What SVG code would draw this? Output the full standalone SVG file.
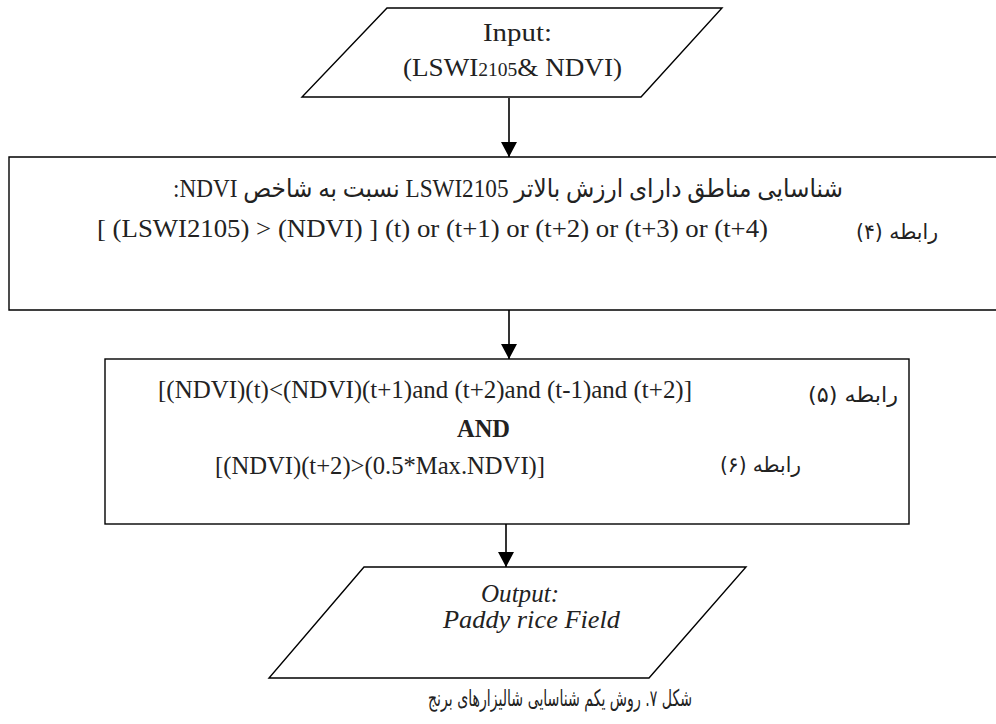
<svg xmlns="http://www.w3.org/2000/svg" width="996" height="724" viewBox="0 0 996 724">
<style>
.shape{fill:#fff;stroke:#000;stroke-width:1.4}
.conn{stroke:#000;stroke-width:1.6;fill:none}
.t{font-family:"Liberation Serif","DejaVu Sans",serif;font-size:25px;fill:#222}
.p{font-family:"DejaVu Sans","Liberation Serif",sans-serif;font-size:21px;fill:#222}
.fa{font-family:"DejaVu Sans","Liberation Serif",sans-serif;font-size:23px;fill:#222}
.it{font-style:italic}
.b{font-weight:bold}
</style>
<defs>
<marker id="ah" markerUnits="userSpaceOnUse" markerWidth="18" markerHeight="18" refX="15" refY="8" orient="auto">
<path d="M0,0 L15,8 L0,16 Z" fill="#000"/>
</marker>
</defs>
<rect width="996" height="724" fill="#fff"/>
<g id="connectors">
<line class="conn" x1="509" y1="98" x2="509" y2="157" marker-end="url(#ah)"/>
<line class="conn" x1="509" y1="310" x2="509" y2="359" marker-end="url(#ah)"/>
<line class="conn" x1="506" y1="524" x2="506" y2="567" marker-end="url(#ah)"/>
</g>
<g id="input">
<polygon class="shape" points="387,8 722,8 641,97 302,97"/>
<text class="t" x="483" y="41" textLength="69" lengthAdjust="spacingAndGlyphs">Input:</text>
<text class="t" x="403" y="76" textLength="219" lengthAdjust="spacingAndGlyphs">(LSWI<tspan font-size="18">2105</tspan>&amp; NDVI)</text>
</g>
<g id="step1">
<path class="shape" d="M1000,157 L9,157 L9,310 L1000,310"/>
<text class="t" x="843" y="197" direction="rtl" unicode-bidi="embed" text-anchor="start" textLength="670" lengthAdjust="spacingAndGlyphs">شناسایی مناطق دارای ارزش بالاتر  LSWI2105 نسبت به شاخص NDVI:</text>
<text class="t" x="97" y="237" textLength="671" lengthAdjust="spacingAndGlyphs">[ (LSWI2105) &gt; (NDVI) ] (t) or (t+1) or (t+2) or (t+3) or (t+4)</text>
<text class="p" x="938" y="239" direction="rtl" unicode-bidi="embed" text-anchor="start" textLength="82" lengthAdjust="spacingAndGlyphs">رابطه (۴)</text>
</g>
<g id="step2">
<rect class="shape" x="105" y="359" width="804" height="165"/>
<text class="t" x="158" y="398" textLength="534" lengthAdjust="spacingAndGlyphs">[(NDVI)(t)&lt;(NDVI)(t+1)and (t+2)and (t-1)and (t+2)]</text>
<text class="p" x="898" y="402" direction="rtl" unicode-bidi="embed" text-anchor="start" textLength="90" lengthAdjust="spacingAndGlyphs">رابطه (۵)</text>
<text class="t b" x="457" y="437" textLength="53" lengthAdjust="spacingAndGlyphs">AND</text>
<text class="t" x="215" y="474" textLength="330" lengthAdjust="spacingAndGlyphs">[(NDVI)(t+2)&gt;(0.5*Max.NDVI)]</text>
<text class="p" x="801" y="472" direction="rtl" unicode-bidi="embed" text-anchor="start" textLength="81" lengthAdjust="spacingAndGlyphs">رابطه (۶)</text>
</g>
<g id="output">
<polygon class="shape" points="364,567 746,567 649,678 269,678"/>
<text class="t it" x="481" y="602" textLength="78" lengthAdjust="spacingAndGlyphs">Output:</text>
<text class="t it" x="443" y="628" textLength="177" lengthAdjust="spacingAndGlyphs">Paddy rice Field</text>
</g>
<text class="fa" x="692" y="706" direction="rtl" unicode-bidi="embed" text-anchor="start" textLength="264" lengthAdjust="spacingAndGlyphs">شکل ۷. روش یکم شناسایی شالیزارهای برنج</text>
</svg>
